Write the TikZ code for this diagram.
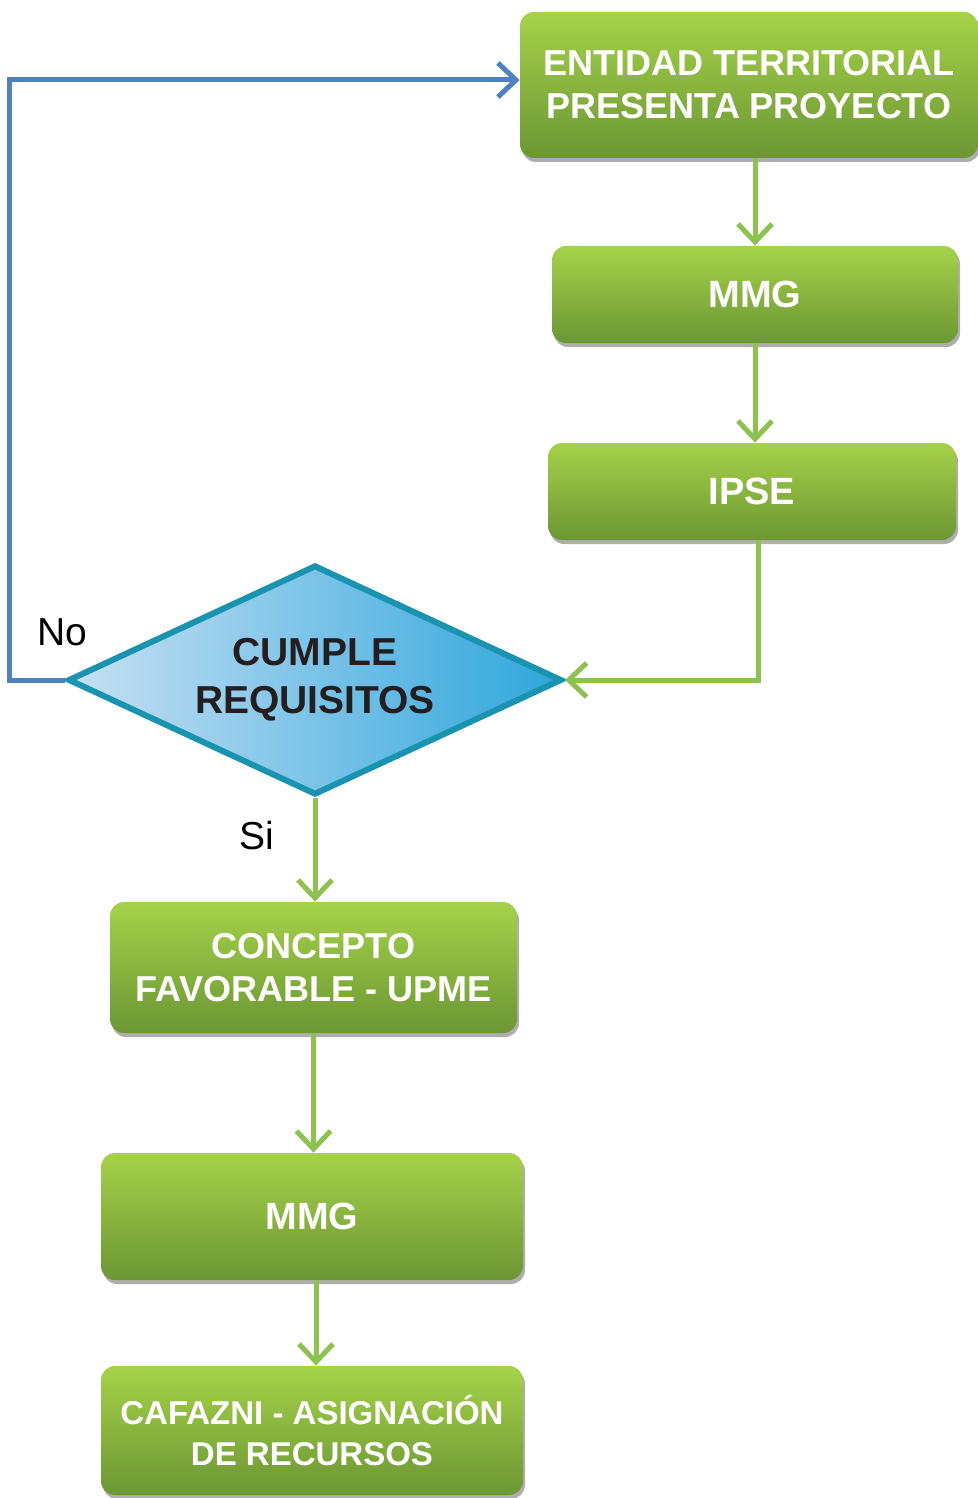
\documentclass[tikz,border=0pt]{standalone}
\usepackage{fontspec}
\setmainfont{Liberation Sans}
\usepackage{tikz}
\usetikzlibrary{arrows.meta,shapes.geometric,shadows,positioning}
\definecolor{verdeclaro}{RGB}{166,210,74}
\definecolor{verde}{RGB}{141,192,62}
\definecolor{verdeoscuro}{RGB}{108,150,52}
\definecolor{linea}{RGB}{141,193,80}
\definecolor{azullinea}{RGB}{79,129,189}
\definecolor{bordeturq}{RGB}{26,147,176}
\definecolor{celeste}{RGB}{200,224,243}
\definecolor{azulfuerte}{RGB}{46,166,220}
\definecolor{texto}{RGB}{35,31,32}

\begin{document}
\begin{tikzpicture}[x=0.5pt,y=-0.5pt,
  caja/.style={rectangle, rounded corners=7pt, inner sep=0pt, align=center,
    top color=verdeclaro, middle color=verde, bottom color=verdeoscuro,
    drop shadow={shadow xshift=1pt, shadow yshift=-2pt, opacity=0.45, fill=black!70},
    text=white, font=\bfseries\fontsize{18}{21.5}\selectfont},
  decision/.style={diamond, aspect=2.15, inner sep=0pt, align=center,
    minimum width=247pt, minimum height=115pt, draw=bordeturq, line width=3pt,
    shading=axis, shading angle=60, left color=celeste, right color=azulfuerte,
    text=texto, font=\bfseries\fontsize{19.5}{24}\selectfont},
  flecha/.style={draw=linea, line width=2.5pt, -{Straight Barb[length=9pt,width=17pt]}},
  retorno/.style={draw=azullinea, line width=2.5pt, -{Straight Barb[length=9pt,width=17pt]}},
  etiqueta/.style={font=\fontsize{19.5}{23}\selectfont, text=black}]
\useasboundingbox (0,0) rectangle (978,1498);

\node[caja, minimum width=229pt, minimum height=73pt] (entidad) at (749,85)
  {ENTIDAD TERRITORIAL\\PRESENTA PROYECTO};
\node[caja, minimum width=203pt, minimum height=48.5pt, font=\bfseries\fontsize{19}{22}\selectfont] (mmga) at (755,294.5) {MMG};
\node[caja, minimum width=204pt, minimum height=48.5pt, font=\bfseries\fontsize{19}{22}\selectfont] (ipse) at (752,491.5) {IPSE};
\node[decision] (cumple) at (315,680) {CUMPLE\\REQUISITOS};
\node[caja, minimum width=203.5pt, minimum height=65.5pt] (concepto) at (313.5,967.5)
  {CONCEPTO\\FAVORABLE - UPME};
\node[caja, minimum width=211pt, minimum height=63.5pt, font=\bfseries\fontsize{19}{22}\selectfont] (mmgb) at (312,1216.5) {MMG};
\node[caja, minimum width=211pt, minimum height=64.5pt, font=\bfseries\fontsize{16.5}{20.5}\selectfont] (cafazni) at (312,1430.5)
  {CAFAZNI - ASIGNACIÓN\\DE RECURSOS};
\node[etiqueta] (no) at (62,632) {No};

% conectores
\draw[flecha] (entidad.south -| mmga.north) -- (mmga.north);
\draw[flecha] (mmga.south) -- (mmga.south |- ipse.north);
\draw[flecha] ([xshift=3pt]ipse.south) |- (cumple.east);
\draw[flecha] (cumple.south) -- node[etiqueta, pos=0.36, left=16pt] (si) {Si} (cumple.south |- concepto.north);
\draw[flecha] (concepto.south) -- (concepto.south |- mmgb.north);
\draw[flecha] ([xshift=2pt]mmgb.south) -- ([xshift=2pt]cafazni.north);
\draw[retorno] (cumple.west) -- ++(-56,0) |- ([yshift=2.5pt]entidad.west);
\end{tikzpicture}
\end{document}
